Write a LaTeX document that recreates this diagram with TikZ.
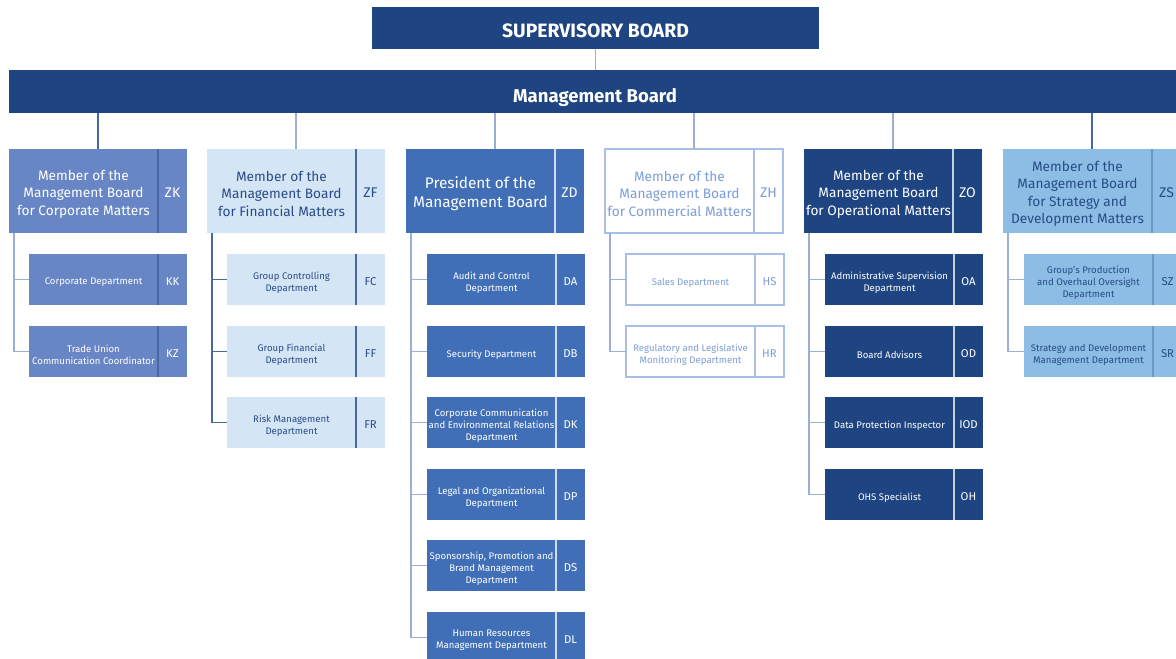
\documentclass[tikz,border=0pt]{standalone}
\usepackage{fontspec}
\setmainfont{Fira Sans}
\usetikzlibrary{calc}
\definecolor{dark}{HTML}{1E4481}
\definecolor{zdblue}{HTML}{416FB7}
\definecolor{zkblue}{HTML}{6886C5}
\definecolor{zflight}{HTML}{D4E6F5}
\definecolor{zftext}{HTML}{2B4B86}
\definecolor{zhtext}{HTML}{7D9DD8}
\definecolor{zhborder}{HTML}{A8C0E6}
\definecolor{zsblue}{HTML}{8CBDE4}
\definecolor{zstext}{HTML}{264C86}
\definecolor{linecol}{HTML}{9AAFD6}
\definecolor{linedark}{HTML}{4A68A0}
\tikzset{
  base/.style={rectangle, inner sep=0pt, outer sep=0pt, anchor=north west, align=center},
  txt/.style={inner sep=0pt, align=center},
  zkbox/.style={base, fill=zkblue},
  zktxt/.style={txt, text=white},
  zksep/.style={draw=linedark, line width=1pt},
  zfbox/.style={base, fill=zflight},
  zftxt/.style={txt, text=zftext},
  zfsep/.style={draw=linedark, line width=0.9pt},
  zdbox/.style={base, fill=zdblue},
  zdtxt/.style={txt, text=white},
  zdsep/.style={draw=white!75!zdblue, line width=0.8pt},
  zhbox/.style={base, fill=white, draw=zhborder, line width=0.8pt},
  zhtxt/.style={txt, text=zhtext},
  zhsep/.style={draw=zhborder, line width=0.8pt},
  zobox/.style={base, fill=dark},
  zotxt/.style={txt, text=white},
  zosep/.style={draw=white!75!dark, line width=0.8pt},
  zsbox/.style={base, fill=zsblue},
  zstxt/.style={txt, text=zstext},
  zssep/.style={draw=zsblue!70!dark, line width=0.8pt},
  member/.style={font=\fontsize{10.25}{13.1}\selectfont},
  membercode/.style={font=\fontsize{10.5}{12}\selectfont},
  president/.style={font=\fontsize{11.5}{14}\selectfont},
  presidentcode/.style={font=\fontsize{10.5}{12}\selectfont},
  child/.style={font=\fontsize{7.2}{9}\selectfont},
  childcode/.style={font=\fontsize{8.5}{10}\selectfont},
  board/.style={rectangle, inner sep=0pt, fill=dark},
  boardtxt/.style={inner sep=0pt, text=white, font=\bfseries},
  conn/.style={draw=linecol, line width=0.8pt},
  conndark/.style={draw=linedark, line width=0.8pt},
}
\newcommand\orgunit[9]{%
  \node[#2box, minimum width=#5*0.75pt, minimum height=#6*0.75pt] (#1) at (#3,#4) {};
  \node[#2box, minimum width=29*0.75pt, minimum height=#6*0.75pt] (#1c) at (#1.north east) {};
  \draw[#2sep] (#1.north east) -- (#1.south east);
  \node[#2txt, #9] (#1t) at ([yshift=-2.2pt]#1.center) {#7};
  \node[#2txt, #9code] (#1ct) at ([yshift=-1.6pt]#1c.center) {#8};
}
\begin{document}
\begin{tikzpicture}[x=0.75pt,y=-0.75pt]
\useasboundingbox (0,0) rectangle (1176,659);
\clip (0,0) rectangle (1176,659);
% boards
\node[board, minimum width=447*0.75pt, minimum height=42*0.75pt] (sb) at (595.5,28) {};
\node[boardtxt, font=\fontsize{14.5}{16}\selectfont\bfseries] (sbt) at ([yshift=-2.3pt]sb.center) {SUPERVISORY BOARD};
\node[board, minimum width=1172*0.75pt, minimum height=43*0.75pt] (mb) at (595,91.5) {};
\node[boardtxt, font=\fontsize{13.9}{16}\selectfont\bfseries] (mbt) at ([yshift=-4.5pt]mb.center) {Management Board};
\draw[conn] (sb.south) -- (sb.south |- mb.north);
% top members
\orgunit{zk}{zk}{9}{149}{149}{84}{Member of the\\Management Board\\for Corporate Matters}{ZK}{member}
\orgunit{zf}{zf}{207}{149}{149}{84}{Member of the\\Management Board\\for Financial Matters}{ZF}{member}
\orgunit{zd}{zd}{406}{149}{149}{84}{President of the\\Management Board}{ZD}{president}
\orgunit{zh}{zh}{605}{149}{149}{84}{Member of the\\Management Board\\for Commercial Matters}{ZH}{member}
\orgunit{zo}{zo}{804}{149}{149}{84}{Member of the\\Management Board\\for Operational Matters}{ZO}{member}
\orgunit{zs}{zs}{1003}{149}{149}{84}{Member of the\\Management Board\\for Strategy and\\Development Matters}{ZS}{member}
% links from management board
\foreach \n/\s in {zk/conndark, zf/conn, zd/conn, zh/conn, zo/conn, zs/conndark}{
  \coordinate (\n top) at ($(\n.north west)!0.5!(\n c.north east)$);
  \draw[\s] (\n top |- mb.south) -- (\n top);
}
% ZK children
\orgunit{kk}{zk}{29}{254}{129}{51}{Corporate Department}{KK}{child}
\orgunit{kz}{zk}{29}{326}{129}{51}{Trade Union\\Communication Coordinator}{KZ}{child}
% ZF children
\orgunit{fc}{zf}{227}{254}{129}{51}{Group Controlling\\Department}{FC}{child}
\orgunit{ff}{zf}{227}{326}{129}{51}{Group Financial\\Department}{FF}{child}
\orgunit{fr}{zf}{227}{397}{129}{51}{Risk Management\\Department}{FR}{child}
% ZD children
\orgunit{da}{zd}{427}{254}{129}{51}{Audit and Control\\Department}{DA}{child}
\orgunit{db}{zd}{427}{326}{129}{51}{Security Department}{DB}{child}
\orgunit{dk}{zd}{427}{397}{129}{51}{Corporate Communication\\and Environmental Relations\\Department}{DK}{child}
\orgunit{dp}{zd}{427}{469}{129}{51}{Legal and Organizational\\Department}{DP}{child}
\orgunit{ds}{zd}{427}{540}{129}{51}{Sponsorship, Promotion and\\Brand Management\\Department}{DS}{child}
\orgunit{dl}{zd}{427}{612}{129}{51}{Human Resources\\Management Department}{DL}{child}
% ZH children
\orgunit{hs}{zh}{626}{254}{129}{51}{Sales Department}{HS}{child}
\orgunit{hr}{zh}{626}{326}{129}{51}{Regulatory and Legislative\\Monitoring Department}{HR}{child}
% ZO children
\orgunit{oa}{zo}{825}{254}{129}{51}{Administrative Supervision\\Department}{OA}{child}
\orgunit{od}{zo}{825}{326}{129}{51}{Board Advisors}{OD}{child}
\orgunit{iod}{zo}{825}{397}{129}{51}{Data Protection Inspector}{IOD}{child}
\orgunit{oh}{zo}{825}{469}{129}{51}{OHS Specialist}{OH}{child}
% ZS children
\orgunit{sz}{zs}{1024}{254}{129}{51}{Group’s Production\\and Overhaul Oversight\\Department}{SZ}{child}
\orgunit{sr}{zs}{1024}{326}{129}{51}{Strategy and Development\\Management Department}{SR}{child}
% branches
\foreach \p/\c/\s in {zk/kk/conn, zk/kz/conn, zf/fc/conndark, zf/ff/conndark, zf/fr/conndark,
  zd/da/conn, zd/db/conn, zd/dk/conn, zd/dp/conn, zd/ds/conn, zd/dl/conn,
  zh/hs/conn, zh/hr/conn, zo/oa/conn, zo/od/conn, zo/iod/conn, zo/oh/conn, zs/sz/conn, zs/sr/conn}{
  \draw[\s] ([xshift=3.75pt]\p.south west) |- (\c.west);
}
\end{tikzpicture}
\end{document}
